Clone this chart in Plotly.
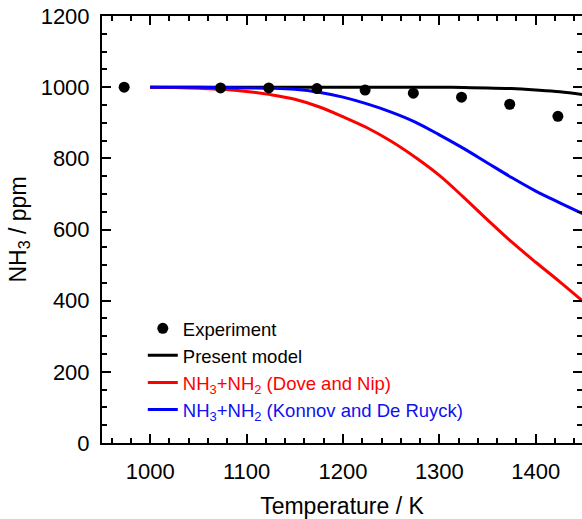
import plotly.graph_objects as go

# Experimental NH3 profile
exp_T = [973, 1073, 1123, 1173, 1223, 1273, 1323, 1373, 1423]
exp_nh3 = [1000, 998, 998, 996, 992, 983, 972, 952, 918]

# Model temperatures
model_T = [1000, 1025, 1050, 1075, 1100, 1125, 1150, 1175, 1200, 1225,
           1250, 1275, 1300, 1325, 1350, 1375, 1400, 1425, 1450]
present_model = [1000, 1000, 1000, 1000, 1000, 1000, 1000, 1000, 1000, 1000,
                 1000, 1000, 1000, 999, 998, 996, 992, 987, 979]
dove_nip = [1000, 999, 997, 994, 988, 979, 966, 945, 917, 886,
            848, 803, 752, 691, 627, 565, 508, 453, 396]
konnov = [1000, 1000, 1000, 999, 998, 997, 994, 986, 972, 953,
          930, 902, 866, 828, 787, 746, 708, 675, 643]

x_ticks = [1000, 1100, 1200, 1300, 1400]
y_ticks = [0, 200, 400, 600, 800, 1000, 1200]

FONT = "Liberation Sans, Arial, sans-serif"

fig = go.Figure()
fig.add_trace(go.Scatter(x=model_T, y=present_model, mode="lines",
                         line=dict(color="#000000", width=3, shape="spline"),
                         name="Present model", legendrank=2))
fig.add_trace(go.Scatter(x=model_T, y=dove_nip, mode="lines",
                         line=dict(color="#ff0000", width=3, shape="spline"),
                         name='<span style="color:#ff0000">NH<sub>3</sub>+NH<sub>2</sub> (Dove and Nip)</span>',
                         legendrank=3))
fig.add_trace(go.Scatter(x=model_T, y=konnov, mode="lines",
                         line=dict(color="#0000ff", width=3, shape="spline"),
                         name='<span style="color:#1010f0">NH<sub>3</sub>+NH<sub>2</sub> (Konnov and De Ruyck)</span>',
                         legendrank=4))
fig.add_trace(go.Scatter(x=exp_T, y=exp_nh3, mode="markers",
                         marker=dict(color="#000000", size=11),
                         name="Experiment", legendrank=1))
# carrier for the right-hand tick axis
fig.add_trace(go.Scatter(x=[], y=[], yaxis="y2", showlegend=False,
                         hoverinfo="skip"))

fig.update_layout(
    width=582, height=519,
    margin=dict(l=102, r=0, t=16, b=76),
    paper_bgcolor="white", plot_bgcolor="white",
    font=dict(family=FONT, size=22, color="#000000"),
    showlegend=True,
    legend=dict(x=0.085, y=0.312, xanchor="left", yanchor="top",
                bgcolor="rgba(0,0,0,0)", font=dict(size=18.5),
                tracegroupgap=0),
    xaxis=dict(range=[950, 1448], tickvals=x_ticks,
               showline=True, linecolor="#000000", linewidth=2,
               mirror="ticks", ticks="inside", ticklen=9, tickwidth=2,
               tickcolor="#000000", showgrid=False, zeroline=False,
               ticklabelstandoff=8,
               minor=dict(dtick=20, tick0=1000, ticks="inside", ticklen=5,
                          tickwidth=2, tickcolor="#000000", showgrid=False),
               title=dict(text="Temperature / K", font=dict(size=23),
                          standoff=14),
               tickfont=dict(size=22)),
    yaxis=dict(range=[0, 1200], tickvals=y_ticks,
               showline=True, linecolor="#000000", linewidth=2,
               ticks="inside", ticklen=9, tickwidth=2,
               tickcolor="#000000", showgrid=False, zeroline=False,
               ticklabelstandoff=6,
               minor=dict(dtick=50, tick0=0, ticks="inside", ticklen=5,
                          tickwidth=2, tickcolor="#000000", showgrid=False),
               title=dict(text="NH<sub>3</sub> / ppm", font=dict(size=23),
                          standoff=8),
               tickfont=dict(size=22)),
    yaxis2=dict(range=[0, 1200], tickvals=y_ticks, overlaying="y",
                side="right", anchor="x", showline=False,
                showticklabels=False, ticks="inside", ticklen=9,
                tickwidth=2, tickcolor="#000000", showgrid=False,
                zeroline=False,
                minor=dict(dtick=50, tick0=0, ticks="inside", ticklen=5,
                           tickwidth=2, tickcolor="#000000",
                           showgrid=False)),
)

fig.write_html("out.html")
